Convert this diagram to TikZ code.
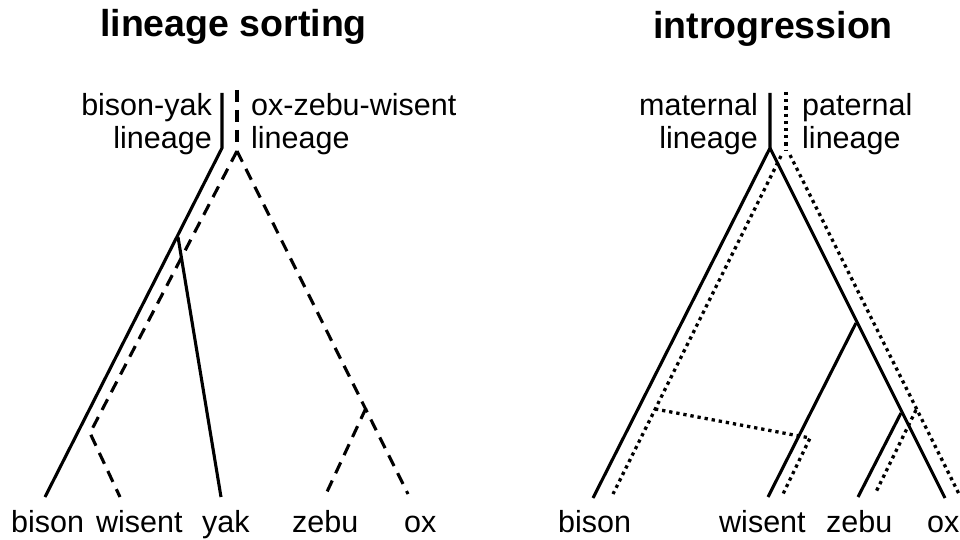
\documentclass[tikz,border=0pt]{standalone}
\usepackage{fontspec}
\setmainfont{Liberation Sans}
\begin{document}
\begin{tikzpicture}[x=1pt,y=-1pt,
  branch/.style={line width=3.1pt, line cap=butt, line join=miter},
  dashbranch/.style={branch, dash pattern=on 12pt off 8pt},
  dotbranch/.style={line width=3.3pt, line cap=butt, dash pattern=on 3.3pt off 3.9pt},
  lab/.style={font=\fontsize{30.5}{34}\selectfont, inner sep=0pt},
  ttl/.style={font=\fontsize{37.5}{42}\selectfont\bfseries, inner sep=0pt}]
\useasboundingbox (0,0) rectangle (960,540);

% ---------- titles ----------
\node[ttl, anchor=base west] (t1) at (100,37) {lineage sorting};
\node[ttl, anchor=base west] (t2) at (653,39) {introgression};

% ---------- lineage sorting tree ----------
\coordinate (byTop)   at (222,93);
\coordinate (byRoot)  at (222,148);
\coordinate (bisonA)  at (45,497);
\coordinate (yakNode) at (178,237);
\coordinate (yakA)    at (221,497);
\coordinate (ozTop)   at (237,90);
\coordinate (ozBot)   at (237,143);
\coordinate (ozApex)  at (237,151);
\coordinate (wisBend) at (90,433);
\coordinate (wisA)    at (120,497);
\coordinate (zebNode) at (366,408);
\coordinate (zebA)    at (326,494);
\coordinate (oxA)     at (408,494);

\draw[branch] (byTop) -- (byRoot) -- (bisonA);
\draw[branch] (yakNode) -- (yakA);
\draw[dashbranch] (ozTop) -- (ozBot);
\draw[dashbranch] (ozApex) -- (wisBend) -- (wisA);
\draw[dashbranch] (ozApex) -- (oxA);
\draw[dashbranch] (zebNode) -- (zebA);

\node[lab, anchor=base east] (by1) at (212,116) {bison-yak};
\node[lab, anchor=base east] (by2) at (212,149) {lineage};
\node[lab, anchor=base west] (oz1) at (251,116) {ox-zebu-wisent};
\node[lab, anchor=base west] (oz2) at (251,149) {lineage};

\node[lab, anchor=base west] (lbison)  at (11,532)  {bison};
\node[lab, anchor=base west] (lwisent) at (96,532)  {wisent};
\node[lab, anchor=base west] (lyak)    at (202,532) {yak};
\node[lab, anchor=base west] (lzebu)   at (292,532) {zebu};
\node[lab, anchor=base west] (lox)     at (404,532) {ox};

% ---------- introgression tree ----------
\coordinate (matTop)   at (770,93);
\coordinate (matRoot)  at (770,148);
\coordinate (bisonB)   at (593,498);
\coordinate (oxB)      at (945,498);
\coordinate (wisNodeB) at (856,323);
\coordinate (wisB)     at (768,497);
\coordinate (zebNodeB) at (901,413);
\coordinate (zebB)     at (858,497);

\draw[branch] (matTop) -- (matRoot) -- (bisonB);
\draw[branch] (matRoot) -- (oxB);
\draw[branch] (wisNodeB) -- (wisB);
\draw[branch] (zebNodeB) -- (zebB);

\coordinate (patTop)   at (786,92);
\coordinate (patBot)   at (786,150);
\coordinate (patL)     at (781,156);
\coordinate (patR)     at (790,155);
\coordinate (pBison)   at (613,494);
\coordinate (pOx)      at (960,496);
\coordinate (introA)   at (655,409);
\coordinate (introB)   at (810,438);
\coordinate (pWis)     at (783,494);
\coordinate (pZebNode) at (916,410);
\coordinate (pZeb)     at (875,494);

\draw[dotbranch] (patTop) -- (patBot);
\draw[dotbranch] (patL) -- (pBison);
\draw[dotbranch] (patR) -- (pOx);
\draw[dotbranch] (introA) -- (introB) -- (pWis);
\draw[dotbranch] (pZebNode) -- (pZeb);

\node[lab, anchor=base east] (mat1) at (758,116) {maternal};
\node[lab, anchor=base east] (mat2) at (758,149) {lineage};
\node[lab, anchor=base west] (pat1) at (802,116) {paternal};
\node[lab, anchor=base west] (pat2) at (802,149) {lineage};

\node[lab, anchor=base west] (rbison)  at (558,532) {bison};
\node[lab, anchor=base west] (rwisent) at (719,532) {wisent};
\node[lab, anchor=base west] (rzebu)   at (826,532) {zebu};
\node[lab, anchor=base west] (rox)     at (927,532) {ox};
\end{tikzpicture}
\end{document}
